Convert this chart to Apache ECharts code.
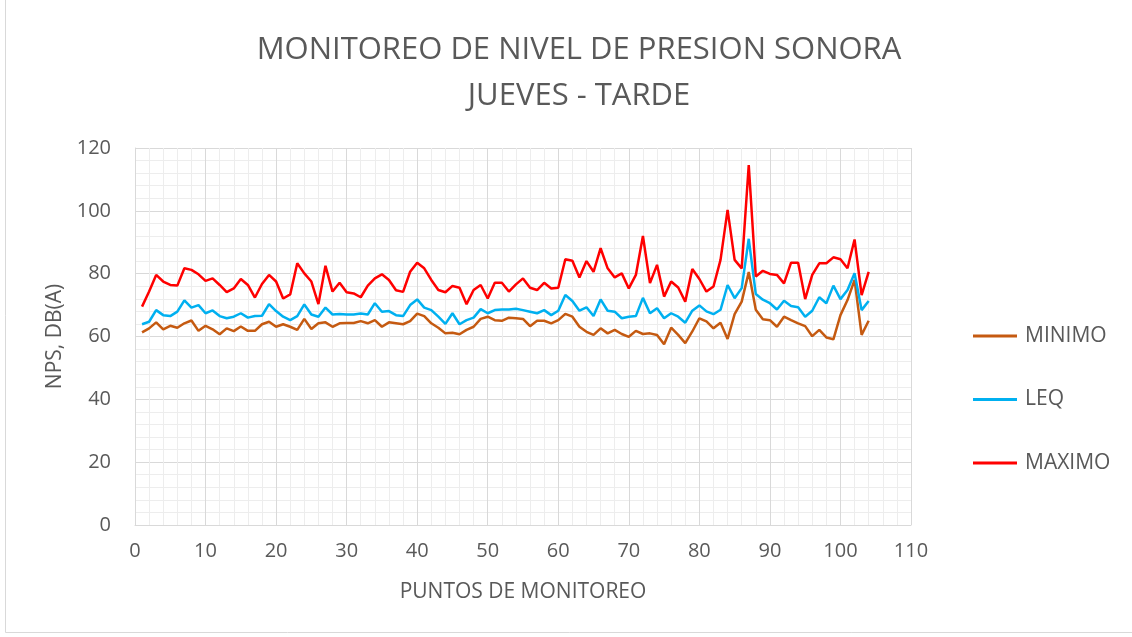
<!DOCTYPE html>
<html>
<head>
<meta charset="utf-8">
<script src="https://cdn.jsdelivr.net/npm/echarts@6/dist/echarts.min.js"></script>
<style>
  html, body { margin: 0; padding: 0; background: #fff; }
  #chart { width: 1132px; height: 637px; }
</style>
</head>
<body>
<div id="chart"></div>
<script>
// valores, puntos 1..104
var minimo = [
  61.3, 62.6, 64.5, 62.3, 63.4, 62.8, 64.2, 65.1, 61.8, 63.4, 62.3, 60.7, 62.6, 61.7, 63.2, 61.8, 61.8, 63.9,
  64.7, 63.1, 63.9, 63.1, 62.1, 65.6, 62.4, 64.2, 64.5, 63.1, 64.2, 64.3, 64.3, 64.9, 64.2, 65.2, 63.1, 64.5,
  64.2, 63.9, 64.9, 67.3, 66.5, 64.2, 62.8, 61.0, 61.2, 60.7, 62.1, 63.1, 65.6, 66.3, 65.2, 65.0, 66.0, 65.8,
  65.6, 63.3, 65.0, 65.0, 64.2, 65.2, 67.2, 66.3, 63.1, 61.5, 60.5, 62.6, 61.0, 62.1, 60.8, 59.9, 61.8, 60.8,
  61.0, 60.5, 57.5, 62.8, 60.5, 57.9, 61.6, 65.8, 64.8, 62.6, 64.4, 59.2, 67.1, 71.1, 80.5, 68.5, 65.5,
  65.2, 63.1, 66.3, 65.2, 64.2, 63.3, 60.1, 62.1, 59.7, 59.1, 66.8, 71.6, 78.0, 60.5, 65.0
];
var leq = [
  63.9, 64.7, 68.4, 66.8, 66.5, 67.9, 71.5, 69.2, 70.0, 67.4, 68.3, 66.5, 65.8, 66.3, 67.4, 66.0, 66.5, 66.6,
  70.3, 68.1, 66.3, 65.2, 66.5, 70.2, 67.0, 66.3, 69.2, 67.0, 67.2, 67.0, 67.0, 67.3, 67.0, 70.6, 67.9, 68.1,
  66.8, 66.5, 70.0, 71.8, 69.2, 68.4, 66.3, 64.0, 67.4, 63.9, 65.2, 66.0, 68.7, 67.4, 68.4, 68.6, 68.6, 68.8,
  68.4, 67.9, 67.4, 68.4, 66.8, 68.2, 73.2, 71.3, 68.2, 69.3, 66.5, 71.8, 68.2, 67.9, 65.8, 66.3, 66.5, 72.3,
  67.4, 69.0, 65.8, 67.4, 66.3, 64.4, 68.2, 69.9, 68.0, 67.1, 68.5, 76.4, 72.2, 75.4, 91.1, 73.5, 71.7,
  70.6, 68.6, 71.4, 69.7, 69.3, 66.3, 68.2, 72.5, 70.6, 76.2, 71.9, 74.8, 80.1, 68.4, 71.3
];
var maximo = [
  69.5, 74.3, 79.6, 77.5, 76.4, 76.2, 81.7, 81.2, 79.8, 77.7, 78.5, 76.4, 74.1, 75.3, 78.3, 76.4, 72.4, 76.7,
  79.6, 77.5, 72.1, 73.4, 83.3, 80.1, 77.5, 70.3, 82.5, 74.3, 77.1, 74.1, 73.7, 72.5, 76.2, 78.5, 79.8, 78.0,
  74.7, 74.2, 80.6, 83.5, 81.7, 78.0, 74.8, 74.1, 76.1, 75.5, 70.3, 74.8, 76.4, 72.1, 77.1, 77.1, 74.3, 76.6,
  78.5, 75.5, 74.8, 77.1, 75.3, 75.5, 84.6, 84.1, 78.8, 84.0, 80.6, 88.1, 81.7, 78.8, 80.1, 75.3, 79.6, 92.0,
  77.0, 82.8, 72.7, 77.5, 75.6, 71.1, 81.5, 78.3, 74.3, 75.9, 84.4, 100.3, 84.4, 81.7, 114.6, 79.1, 80.9,
  79.9, 79.6, 76.9, 83.5, 83.5, 71.9, 79.6, 83.3, 83.3, 85.2, 84.6, 81.7, 90.9, 73.2, 80.6
];

var puntos = [];
for (var i = 0; i < maximo.length; i++) puntos.push(i + 1);

function pares(vals) {
  return puntos.map(function (p, k) { return [p, vals[k]]; });
}

var fuente = '"Open Sans", "Liberation Sans", sans-serif';
var gris = '#595959';

var chart = echarts.init(document.getElementById('chart'));
chart.setOption({
  backgroundColor: '#fff',
  animation: false,
  title: {
    text: 'MONITOREO DE NIVEL DE PRESION SONORA\nJUEVES - TARDE',
    left: 574,
    top: 22,
    textAlign: 'center',
    textStyle: { fontFamily: fuente, fontSize: 31, fontWeight: 'normal', color: gris, lineHeight: 46 }
  },
  legend: {
    orient: 'vertical',
    left: 968,
    top: 320,
    itemWidth: 44,
    itemHeight: 3,
    itemGap: 41.5,
    icon: 'rect',
    data: [
      { name: 'MINIMO', itemStyle: { color: '#C55A11' } },
      { name: 'LEQ', itemStyle: { color: '#00B0F0' } },
      { name: 'MAXIMO', itemStyle: { color: '#FF0000' } }
    ],
    textStyle: { fontFamily: fuente, fontSize: 21, color: gris, padding: [0, 0, 0, 3], lineHeight: 22 }
  },
  grid: { left: 135, right: 221, top: 148, bottom: 112, containLabel: false },
  xAxis: {
    type: 'value',
    min: 0, max: 110, interval: 10,
    name: 'PUNTOS DE MONITOREO',
    nameLocation: 'middle',
    nameGap: 57,
    nameTextStyle: { fontFamily: fuente, fontSize: 21, color: gris },
    axisLine: { show: true, lineStyle: { color: '#d9d9d9' } },
    axisTick: { show: false },
    axisLabel: { fontFamily: fuente, fontSize: 20, color: gris, margin: 16 },
    splitLine: { show: true, lineStyle: { color: '#d9d9d9', width: 1 } },
    minorTick: { show: false, splitNumber: 5 },
    minorSplitLine: { show: true, lineStyle: { color: '#ededed', width: 1 } }
  },
  yAxis: {
    type: 'value',
    min: 0, max: 120, interval: 20,
    name: 'NPS, DB(A)',
    nameLocation: 'middle',
    nameGap: 66,
    nameRotate: 90,
    nameTextStyle: { fontFamily: fuente, fontSize: 21, color: gris },
    axisLine: { show: true, lineStyle: { color: '#d9d9d9' } },
    axisTick: { show: false },
    axisLabel: { fontFamily: fuente, fontSize: 20, color: gris, margin: 24 },
    splitLine: { show: true, lineStyle: { color: '#d9d9d9', width: 1 } },
    minorTick: { show: false, splitNumber: 5 },
    minorSplitLine: { show: true, lineStyle: { color: '#ededed', width: 1 } }
  },
  series: [
    { name: 'MINIMO', type: 'line', symbol: 'none', data: pares(minimo),
      lineStyle: { color: '#C55A11', width: 2.5 }, itemStyle: { color: '#C55A11' } },
    { name: 'LEQ', type: 'line', symbol: 'none', data: pares(leq),
      lineStyle: { color: '#00B0F0', width: 2.5 }, itemStyle: { color: '#00B0F0' } },
    { name: 'MAXIMO', type: 'line', symbol: 'none', data: pares(maximo),
      lineStyle: { color: '#FF0000', width: 2.5 }, itemStyle: { color: '#FF0000' } }
  ],
  graphic: [
    { type: 'rect', silent: true, z: -10,
      shape: { x: 5.5, y: -5, width: 1200, height: 637.5 },
      style: { fill: 'none', stroke: '#d9d9d9', lineWidth: 1 } }
  ]
});
</script>
</body>
</html>
